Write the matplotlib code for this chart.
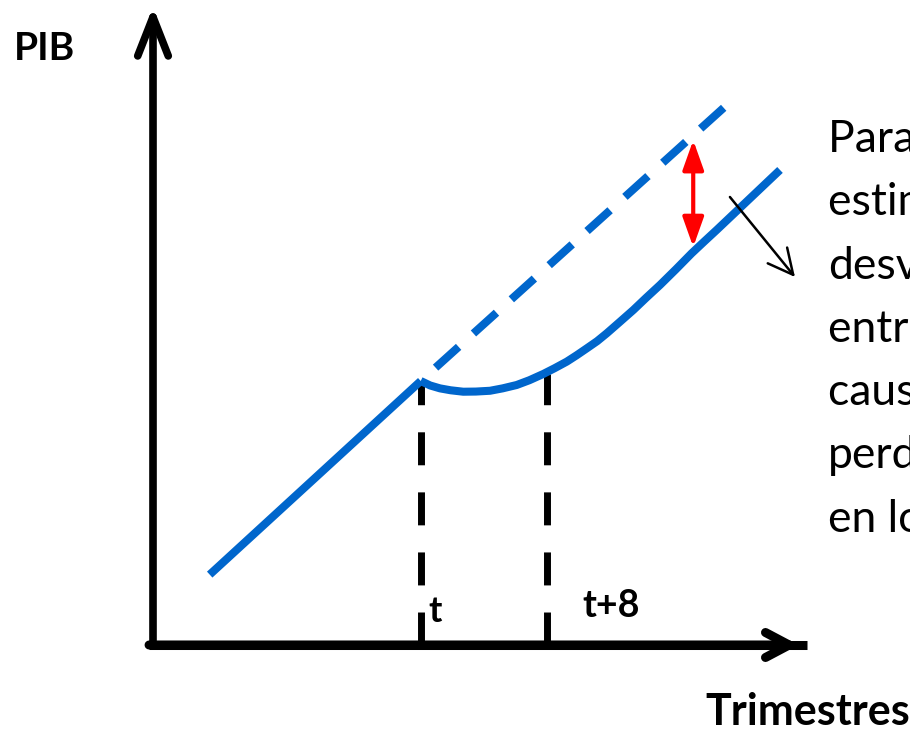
import numpy as np
import matplotlib
matplotlib.use('Agg')
from matplotlib import pyplot as plt

plt.rcParams['font.family'] = ['Lato', 'DejaVu Sans']

# schematic data: quarters on x, PIB on y (arbitrary units)
quarters_pre = [3.6, 17.0]
pib_pre = [4.4, 16.5]

quarters_trend = [17.0, 36.6]
pib_trend = [16.5, 33.9]

quarters_post = [17.0, 17.6, 18.22, 18.9, 19.70, 20.5, 21.40, 22.2, 23.09,
                 23.9, 24.78, 25.5, 26.27, 26.9, 27.54, 28.2, 28.81, 29.6,
                 30.50, 31.3, 32.19, 33.2, 34.20, 35.0, 35.79, 39.81]
pib_post = [16.5, 16.22, 16.04, 15.92, 15.83, 15.84, 15.89, 16.04, 16.25,
            16.55, 16.94, 17.30, 17.71, 18.11, 18.54, 18.99, 19.48, 20.16,
            20.94, 21.69, 22.5, 23.48, 24.48, 25.22, 25.94, 29.69]

t_shock = 17.0
horizon = 8
gap_quarter = 34.3
pointer_from = (36.63, 28.0)
pointer_to = (40.76, 23.0)

x_axis_end = 41.0
y_axis_end = 39.9

note_lines = ['Para estimar el', 'estimamos la', 'desviación', 'entre ambas',
              'causada por la', 'perdida', 'en los trimestres']

blue = '#0066CC'

fig = plt.figure(figsize=(9.1, 7.32), dpi=100)
ax = fig.add_axes([0, 0, 1, 1])
# 15.75 px per quarter, 16 px per unit of PIB, origin at pixel (153, 645)
ax.set_xlim(-153 / 15.75, (910 - 153) / 15.75)
ax.set_ylim(-(732 - 645) / 16, 645 / 16)
ax.axis('off')

# axes with arrows
ax.annotate('', xy=(0, y_axis_end), xytext=(0, 0),
            arrowprops=dict(arrowstyle='->,head_length=1.4,head_width=0.55',
                            lw=5.5, color='black', mutation_scale=20,
                            shrinkA=0, shrinkB=0, capstyle='round'))
ax.plot([-0.25, x_axis_end + 0.5], [0, 0], color='black', lw=6.5,
        solid_capstyle='butt')
ax.annotate('', xy=(x_axis_end, 0), xytext=(-0.25, 0),
            arrowprops=dict(arrowstyle='->,head_length=0.85,head_width=0.45',
                            lw=6.5, color='black', mutation_scale=20,
                            shrinkA=0, shrinkB=0, capstyle='round'))

# vertical dashed lines at t and t+8
for q in [t_shock, t_shock + horizon]:
    top = np.interp(q, quarters_post, pib_post) - 0.1
    ax.plot([q, q], [0, top], color='black', lw=5,
            linestyle=(0, (4.75, 3.9)), solid_capstyle='butt',
            dash_capstyle='butt')

# PIB paths
lw_blue = 5.8
ax.plot(quarters_pre, pib_pre, color=blue, lw=lw_blue, solid_capstyle='butt')
ax.plot(quarters_trend, pib_trend, color=blue, lw=lw_blue,
        linestyle=(3.85, (3.85, 2.48)), dash_capstyle='butt')
ax.plot(quarters_post, pib_post, color=blue, lw=lw_blue, solid_capstyle='butt',
        solid_joinstyle='round')

# gap between trend and actual
gap_top = np.interp(gap_quarter, quarters_trend, pib_trend)
gap_bottom = np.interp(gap_quarter, quarters_post, pib_post)
ax.annotate('', xy=(gap_quarter, gap_bottom), xytext=(gap_quarter, gap_top),
            arrowprops=dict(arrowstyle='<|-|>,head_length=0.9,head_width=0.32',
                            lw=3, color='red', mutation_scale=20,
                            shrinkA=3.5, shrinkB=3.5))

# pointer to the note
ax.annotate('', xy=pointer_to, xytext=pointer_from,
            arrowprops=dict(arrowstyle='->,head_length=0.9,head_width=0.45',
                            lw=1.8, color='black', mutation_scale=20,
                            shrinkA=0, shrinkB=0))

# labels
W, H = 910.0, 732.0
fig.text(14 / W, 1 - 60 / H, 'PIB', fontsize=28, fontweight='bold',
         va='baseline', ha='left')
fig.text(705 / W, 1 - 725 / H, 'Trimestres', fontsize=31, fontweight='bold',
         va='baseline', ha='left')
fig.text(428 / W, 1 - 622 / H, 't', fontsize=26, fontweight='bold',
         va='baseline', ha='left')
fig.text(582 / W, 1 - 617 / H, 't+8', fontsize=27, fontweight='bold',
         va='baseline', ha='left')

for i, line in enumerate(note_lines):
    fig.text(828 / W, 1 - (152 + 63.3 * i) / H, line, fontsize=32,
             va='baseline', ha='left')

fig.savefig('out.png', dpi=100)
